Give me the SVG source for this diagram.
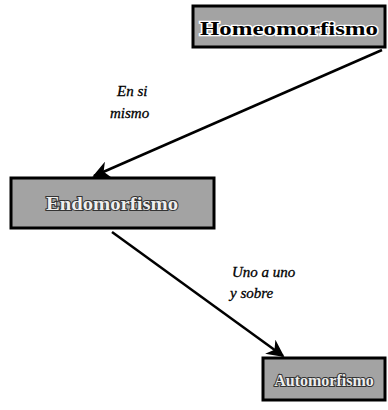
<svg xmlns="http://www.w3.org/2000/svg" width="388" height="410" viewBox="0 0 388 410">
<style>
.box{fill:#a3a3a3;stroke:#000;stroke-width:3}
.title{font-family:"Liberation Serif",serif;font-weight:bold;font-size:19px;text-anchor:middle}
.dark{fill:#000;stroke:#fff;stroke-width:2.5;paint-order:stroke}
.light{fill:#eee;stroke:#333;stroke-width:2;paint-order:stroke}
.lbl{font-family:"Liberation Serif",serif;font-style:italic;font-size:15px;fill:#000;stroke:#000;stroke-width:0.3}
.conn{stroke:#000;stroke-width:2.5;fill:none}
</style>
<defs>
<marker id="ah" viewBox="0 0 10 10" refX="9" refY="5" markerWidth="7" markerHeight="7" markerUnits="strokeWidth" orient="auto">
<path d="M0,0 L10,5 L0,10 L3,5 Z" fill="#000"/>
</marker>
</defs>
<rect width="388" height="410" fill="#fff"/>
<g id="connectors">
<line class="conn" x1="382" y1="50" x2="94" y2="176" marker-end="url(#ah)"/>
<line class="conn" x1="112" y1="232" x2="283" y2="356" marker-end="url(#ah)"/>
</g>
<g id="homeomorfismo">
<rect class="box" x="193" y="6" width="192" height="41"/>
<text class="title dark" x="289" y="35" textLength="178" lengthAdjust="spacingAndGlyphs">Homeomorfismo</text>
</g>
<g id="endomorfismo">
<rect class="box" x="11" y="178" width="203" height="50"/>
<text class="title light" x="112" y="210" textLength="132" lengthAdjust="spacingAndGlyphs">Endomorfismo</text>
</g>
<g id="automorfismo">
<rect class="box" x="263" y="358" width="122" height="42"/>
<text class="title light" x="324" y="386" style="font-size:16px">Automorfismo</text>
</g>
<g id="labels">
<text class="lbl" x="117" y="96">En si</text>
<text class="lbl" x="110" y="118">mismo</text>
<text class="lbl" x="232" y="277">Uno a uno</text>
<text class="lbl" x="230" y="298">y sobre</text>
</g>
</svg>
